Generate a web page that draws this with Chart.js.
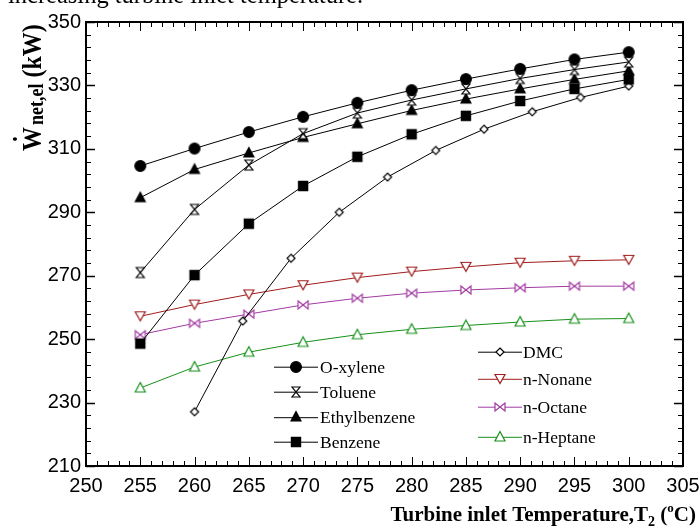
<!DOCTYPE html>
<html><head><meta charset="utf-8">
<script src="https://cdn.jsdelivr.net/npm/chart.js@4/dist/chart.umd.min.js"></script>
<style>html,body{margin:0;padding:0;background:#fff}#wrap{width:699px;height:529px;position:relative}</style>
</head><body><div id="wrap"><canvas id="c" width="699" height="529"></canvas></div>
<script>
// ---- data ----
const temps = [255, 260, 265, 270, 275, 280, 285, 290, 295, 300];
const dmcTemps = [260, 264.44, 268.89, 273.33, 277.78, 282.22, 286.67, 291.11, 295.56, 300];
const oXylene = [304.6, 310.1, 315.3, 320.1, 324.5, 328.5, 332.0, 335.2, 338.2, 340.5];
const toluene = [271.0, 290.9, 304.9, 314.8, 321.3, 325.4, 328.9, 332.2, 335.0, 337.4];
const ethylbenzene = [294.6, 303.5, 308.7, 313.6, 317.9, 322.1, 325.7, 328.9, 331.9, 334.6];
const benzene = [248.6, 270.2, 286.4, 298.3, 307.5, 314.6, 320.4, 325.1, 328.9, 331.9];
const dmc = [227.1, 255.7, 275.5, 290.0, 301.1, 309.5, 316.2, 321.7, 326.2, 329.8];
const nNonane = [257.2, 260.9, 264.1, 267.0, 269.4, 271.3, 272.8, 274.1, 274.7, 275.0];
const nOctane = [251.4, 255.0, 257.9, 260.8, 262.9, 264.5, 265.5, 266.2, 266.7, 266.7];
const nHeptane = [234.6, 241.2, 245.9, 249.0, 251.4, 253.1, 254.3, 255.4, 256.3, 256.5];
const xTickMin = 250, xTickMax = 305, xTickStep = 5;
const yTickMin = 210, yTickMax = 350, yTickStep = 20;
const xTitle = ["Turbine inlet Temperature,T", "2", " (", "o", "C)"];
const yTitle = ["W", "net,el", " (kW)"];
const topText = "increasing turbine inlet temperature.";

// ---- markers ----
function mk(type, color, fill) {
  const s = 16, c = document.createElement('canvas');
  c.width = s; c.height = s;
  const g = c.getContext('2d');
  const cx = s / 2, cy = s / 2;
  g.strokeStyle = color; g.fillStyle = fill; g.lineWidth = 1.2; g.lineJoin = 'miter';
  g.beginPath();
  if (type === 'circle') { g.arc(cx, cy, 5.4, 0, Math.PI * 2); }
  else if (type === 'hourglass') { g.moveTo(cx - 4, cy - 5); g.lineTo(cx + 4, cy - 5); g.lineTo(cx - 4, cy + 5); g.lineTo(cx + 4, cy + 5); g.closePath(); }
  else if (type === 'triUp') { g.moveTo(cx, cy - 5.5); g.lineTo(cx + 5, cy + 4); g.lineTo(cx - 5, cy + 4); g.closePath(); }
  else if (type === 'square') { g.rect(cx - 4.6, cy - 4.6, 9.2, 9.2); }
  else if (type === 'diamond') { g.moveTo(cx, cy - 4); g.lineTo(cx + 4, cy); g.lineTo(cx, cy + 4); g.lineTo(cx - 4, cy); g.closePath(); }
  else if (type === 'triDown') { g.moveTo(cx - 5, cy - 4.5); g.lineTo(cx + 5, cy - 4.5); g.lineTo(cx, cy + 4.5); g.closePath(); }
  else if (type === 'bowtie') { g.moveTo(cx - 5, cy - 4); g.lineTo(cx - 5, cy + 4); g.lineTo(cx + 5, cy - 4); g.lineTo(cx + 5, cy + 4); g.closePath(); }
  g.fill(); g.stroke();
  return c;
}
const RED = '#a01c1c', PURPLE = '#a23aa2', GREEN = '#17901a';
const series = [
  { label: 'O-xylene', xs: temps, ys: oXylene, color: '#000', m: mk('circle', '#000', '#000') },
  { label: 'Toluene', xs: temps, ys: toluene, color: '#000', m: mk('hourglass', '#000', '#fff') },
  { label: 'Ethylbenzene', xs: temps, ys: ethylbenzene, color: '#000', m: mk('triUp', '#000', '#000') },
  { label: 'Benzene', xs: temps, ys: benzene, color: '#000', m: mk('square', '#000', '#000') },
  { label: 'DMC', xs: dmcTemps, ys: dmc, color: '#000', m: mk('diamond', '#000', '#fff') },
  { label: 'n-Nonane', xs: temps, ys: nNonane, color: RED, m: mk('triDown', RED, '#fff') },
  { label: 'n-Octane', xs: temps, ys: nOctane, color: PURPLE, m: mk('bowtie', PURPLE, '#fff') },
  { label: 'n-Heptane', xs: temps, ys: nHeptane, color: GREEN, m: mk('triUp', GREEN, '#fff') },
];
const datasets = series.map(s => ({
  label: s.label,
  data: s.xs.map((x, i) => ({ x: x, y: s.ys[i] })),
  borderColor: s.color, backgroundColor: s.color, borderWidth: 1,
  pointStyle: s.m, pointRadius: 5, tension: 0
}));

const legendLayout = [
  { x0: 274, x1: 318, tx: 320, ys: [366.7, 391.7, 417.2, 441.7], idx: [0, 1, 2, 3] },
  { x0: 478, x1: 522, tx: 523, ys: [351.7, 378.8, 406.7, 436.8], idx: [4, 5, 6, 7] }
];

const deco = {
  id: 'deco',
  afterDraw(chart) {
    const ctx = chart.ctx, a = chart.chartArea, xs = chart.scales.x, ys = chart.scales.y;
    ctx.save();
    // frame
    ctx.strokeStyle = '#000'; ctx.lineWidth = 2;
    ctx.strokeRect(a.left, a.top, a.right - a.left, a.bottom - a.top);
    // inward ticks
    ctx.lineWidth = 1;
    for (let v = xTickMin; v <= xTickMax; v += 1) {
      const px = Math.round(xs.getPixelForValue(v)) + 0.5;
      const L = (v % xTickStep === 0) ? 9 : 5;
      ctx.beginPath();
      ctx.moveTo(px, a.bottom); ctx.lineTo(px, a.bottom - L);
      ctx.moveTo(px, a.top); ctx.lineTo(px, a.top + L);
      ctx.stroke();
    }
    for (let v = yTickMin; v <= yTickMax; v += 4) {
      const py = Math.round(ys.getPixelForValue(v)) + 0.5;
      const major = ((v - yTickMin) % yTickStep === 0);
      const L = major ? 9 : 5;
      ctx.lineWidth = major ? 1.6 : 1;
      ctx.beginPath();
      ctx.moveTo(a.left, py); ctx.lineTo(a.left + L, py);
      ctx.moveTo(a.right, py); ctx.lineTo(a.right - L, py);
      ctx.stroke();
    }
    // legends
    ctx.font = '17.5px "Liberation Serif"';
    ctx.textBaseline = 'alphabetic'; ctx.textAlign = 'left';
    legendLayout.forEach(g => {
      g.idx.forEach((di, k) => {
        const s = series[di], y = g.ys[k];
        ctx.strokeStyle = s.color; ctx.lineWidth = 1;
        ctx.beginPath(); ctx.moveTo(g.x0, y + 0.5); ctx.lineTo(g.x1, y + 0.5); ctx.stroke();
        ctx.drawImage(s.m, Math.round((g.x0 + g.x1) / 2 - s.m.width / 2), Math.round(y - s.m.height / 2));
        ctx.fillStyle = '#000';
        ctx.fillText(s.label, g.tx, y + 6);
      });
    });
    // x title
    const parts = [
      { t: xTitle[0], f: 'bold 21px "Liberation Serif"', dy: 0 },
      { t: xTitle[1], f: 'bold 14px "Liberation Serif"', dy: 5 },
      { t: xTitle[2], f: 'bold 21px "Liberation Serif"', dy: 0 },
      { t: xTitle[3], f: 'bold 13px "Liberation Serif"', dy: -9 },
      { t: xTitle[4], f: 'bold 21px "Liberation Serif"', dy: 0 }
    ];
    let tot = 0;
    parts.forEach(p => { ctx.font = p.f; p.w = ctx.measureText(p.t).width; tot += p.w; });
    let x = 696 - tot; const base = 521;
    ctx.fillStyle = '#000';
    parts.forEach(p => { ctx.font = p.f; ctx.fillText(p.t, x, base + p.dy); x += p.w; });
    // y title (rotated)
    ctx.save();
    ctx.translate(41, 151);
    ctx.rotate(-Math.PI / 2);
    ctx.scale(1, 1.12);
    ctx.font = 'bold 24px "Liberation Serif"';
    const wW = ctx.measureText(yTitle[0]).width;
    ctx.fillText(yTitle[0], 0, 0);
    ctx.textAlign = 'center';
    ctx.fillText('\u02D9', wW / 2, -8);
    ctx.textAlign = 'left';
    ctx.font = 'bold 18px "Liberation Serif"';
    const subX = wW + 2;
    ctx.fillText(yTitle[1], subX, 2);
    const sW = ctx.measureText(yTitle[1]).width;
    ctx.font = 'bold 24px "Liberation Serif"';
    ctx.fillText(yTitle[2], subX + sW, 0);
    ctx.restore();
    // cropped caption text at top
    ctx.font = '24.5px "Liberation Serif"';
    ctx.fillText(topText, 8, 3);
    ctx.restore();
  }
};

new Chart(document.getElementById('c'), {
  type: 'line',
  data: { datasets: datasets },
  options: {
    responsive: false, animation: false, devicePixelRatio: 1,
    events: [],
    layout: { padding: { left: 30, right: 16, top: 22, bottom: 23 } },
    plugins: { legend: { display: false }, tooltip: { enabled: false } },
    scales: {
      x: {
        type: 'linear', min: xTickMin, max: xTickMax,
        afterFit: s => { s.height = 40; s.paddingLeft = 0; s.paddingRight = 0; },
        grid: { display: false, drawTicks: false },
        border: { display: false },
        ticks: { stepSize: xTickStep, color: '#000', padding: 8, font: { family: 'Liberation Sans', size: 20 }, maxRotation: 0 }
      },
      y: {
        type: 'linear', min: yTickMin, max: yTickMax,
        afterFit: s => { s.width = 56; s.paddingTop = 0; s.paddingBottom = 0; },
        grid: { display: false, drawTicks: false },
        border: { display: false },
        ticks: { stepSize: yTickStep, color: '#000', padding: 5, font: { family: 'Liberation Sans', size: 20 } }
      }
    }
  },
  plugins: [deco]
});
</script></body></html>
